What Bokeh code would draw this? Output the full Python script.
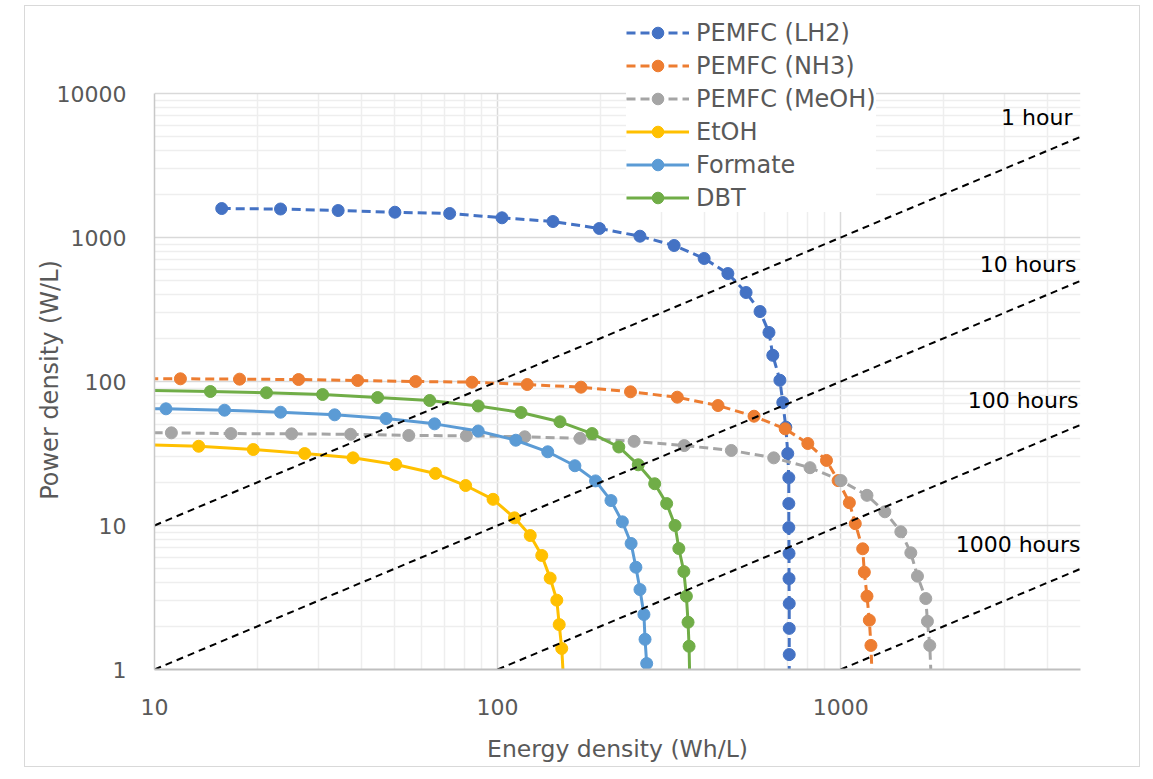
from bokeh.plotting import figure
from bokeh.models import (FixedTicker, Legend, LegendItem, CustomJSTickFormatter, Range1d)
from bokeh.core.properties import value
from bokeh.embed import file_html
from bokeh.resources import INLINE

# ---------------- data ----------------
series_names = ["PEMFC (LH2)", "PEMFC (NH3)", "PEMFC (MeOH)", "EtOH", "Formate", "DBT"]
series_colors = ["#4472C4", "#ED7D31", "#A5A5A5", "#FFC000", "#5B9BD5", "#70AD47"]
series_dashed = [True, True, True, False, False, False]

lh2_E = [15.7, 23.3, 34.3, 50.2, 72.5, 103, 145, 198, 260, 327, 400, 469, 530, 582, 618, 634,
         665, 678, 692, 701, 706, 706, 706, 707, 707, 708, 708, 708, 708]
lh2_P = [1589, 1577, 1539, 1498, 1468, 1370, 1291, 1155, 1021, 880, 715, 562, 415, 306, 219, 152,
         102, 71.5, 48.2, 31.6, 21.5, 14.2, 9.68, 6.40, 4.28, 2.87, 1.93, 1.27, 0.85]

nh3_E = [8.0, 11.9, 17.7, 26.3, 39.1, 57.7, 84.2, 122, 175, 244, 334, 439, 559, 689, 802, 909,
         983, 1060, 1103, 1159, 1172, 1193, 1212, 1225, 1235]
nh3_P = [104.8, 104.4, 103.8, 103.2, 101.6, 100, 98.9, 95.3, 91.3, 84.8, 77.8, 68.1, 57.4, 46.9,
         37.1, 28.3, 20.5, 14.4, 10.3, 6.89, 4.74, 3.23, 2.20, 1.47, 0.88]

meoh_E = [7.5, 11.2, 16.7, 25.1, 37.3, 55.1, 81.1, 120, 174, 250, 350, 480, 638, 814, 1002, 1193,
          1345, 1497, 1601, 1674, 1770, 1790, 1818, 1835]
meoh_P = [44.3, 44.0, 43.5, 43.3, 43.0, 42.2, 42.0, 41.3, 40.3, 38.4, 35.9, 33.2, 29.5, 25.2, 20.5,
          16.2, 12.45, 9.04, 6.46, 4.45, 3.11, 2.16, 1.47, 0.88]

etoh_E = [9.2, 13.45, 19.4, 27.4, 37.9, 50.5, 65.9, 80.7, 97.0, 112, 124.5, 134.5, 142.3, 148.8,
          151.2, 153.8, 155.5]
etoh_P = [36.5, 35.5, 33.7, 31.6, 29.5, 26.5, 23.0, 18.95, 15.2, 11.3, 8.52, 6.19, 4.31, 3.03,
          2.05, 1.40, 0.88]

formate_E = [7.4, 10.8, 16.0, 23.3, 33.5, 47.3, 65.5, 87.8, 113, 140, 168, 193, 214, 231, 245, 253,
             260, 267, 269, 272, 273]
formate_P = [65.5, 64.6, 63.2, 61.2, 58.7, 55.3, 50.8, 45.3, 39.1, 32.5, 26.0, 20.4, 14.9, 10.6,
             7.50, 5.13, 3.59, 2.41, 1.62, 1.10, 0.75]

dbt_E = [9.0, 14.55, 21.2, 30.9, 44.7, 63.4, 87.8, 117, 152, 188.5, 225.6, 257, 287, 311, 329, 337.5,
         349, 355, 359, 361.5, 363]
dbt_P = [87, 85.2, 83.5, 81.2, 77.4, 73.8, 67.6, 60.9, 52.5, 43.5, 35.1, 26.4, 19.5, 14.2, 10.0,
         6.92, 4.79, 3.23, 2.13, 1.45, 0.88]

series_E = [lh2_E, nh3_E, meoh_E, etoh_E, formate_E, dbt_E]
series_P = [lh2_P, nh3_P, meoh_P, etoh_P, formate_P, dbt_P]

hours = [1, 10, 100, 1000]
hour_labels = ["1 hour", "10 hours", "100 hours", "1000 hours"]
hour_label_y = [6760, 650, 73.8, 7.38]

x_min, x_max = 10, 5000
y_min, y_max = 1, 10000
x_major = [10, 100, 1000]
y_major = [1, 10, 100, 1000, 10000]

x_minor = [k * 10 ** d for d in range(1, 4) for k in range(2, 10) if k * 10 ** d <= x_max]
y_minor = [k * 10 ** d for d in range(0, 4) for k in range(2, 10)]

# plot frame extends above the 10000 line so the legend (which sits above it) is not clipped
y_view_top = 10 ** (4 + 87 / 144)

# ---------------- figure ----------------
p = figure(width=1116, height=762, x_axis_type="log", y_axis_type="log",
           x_range=Range1d(x_min, x_max), y_range=Range1d(y_min, y_view_top),
           output_backend="svg", toolbar_location=None,
           min_border_left=129, min_border_right=61, min_border_top=0, min_border_bottom=99)
p.margin = (5, 0, 0, 24)
p.styles = {"border": "1px solid #D9D9D9"}
p.outline_line_color = None
p.background_fill_color = "white"

GREY_TXT = "#595959"
FONT = "DejaVu Sans"

for ax, ticks in ((p.xaxis, x_major), (p.yaxis, y_major)):
    ax.ticker = FixedTicker(ticks=ticks)
    ax.formatter = CustomJSTickFormatter(code="return String(Math.round(tick))")
    ax.major_tick_line_color = None
    ax.minor_tick_line_color = None
    ax.major_tick_out = 0
    ax.major_label_text_font = FONT
    ax.major_label_text_font_size = "22px"
    ax.major_label_text_color = GREY_TXT
    ax.axis_label_text_font = FONT
    ax.axis_label_text_font_style = "normal"
    ax.axis_label_text_color = GREY_TXT

p.yaxis.bounds = (y_min, y_max)
p.xaxis.axis_line_color = "#BFBFBF"
p.xaxis.axis_line_width = 2
p.yaxis.axis_line_color = "#C8C8C8"
p.yaxis.axis_line_width = 1.5
p.xaxis.axis_label = "Energy density (Wh/L)"
p.xaxis.axis_label_text_font_size = "23.5px"
# trailing no-break spaces keep the title centred on the 1..10000 axis span
p.yaxis.axis_label = "Power density (W/L)" + "\u00a0" * 11
p.yaxis.axis_label_text_font_size = "24px"
p.xaxis.major_label_standoff = 29
p.xaxis.axis_label_standoff = 17
p.yaxis.major_label_standoff = 28
p.yaxis.axis_label_standoff = -10

p.xgrid.ticker = FixedTicker(ticks=x_major, minor_ticks=x_minor)
p.ygrid.ticker = FixedTicker(ticks=y_major, minor_ticks=y_minor)
p.xgrid.cross_bounds = (y_min, y_max)
for g in (p.xgrid, p.ygrid):
    g.grid_line_color = "#D9D9D9"
    g.grid_line_width = 1.5
    g.minor_grid_line_color = "#EEEEEE"
    g.minor_grid_line_width = 1.5

items = []
for name, col, dashed, E, P in zip(series_names, series_colors, series_dashed, series_E, series_P):
    lr = p.line(E, P, line_color=col, line_width=3,
                line_dash="9 5" if dashed else "solid")
    sr = p.scatter(E, P, size=12, marker="circle", fill_color=col, line_color=col)
    items.append(LegendItem(label=name, renderers=[lr, sr]))

for h in hours:
    e0 = max(x_min, h * y_min)
    p.line([e0, x_max], [e0 / h, x_max / h], line_color="black", line_width=2, line_dash="7 5")

p.text(x=[x_max] * len(hours), y=hour_label_y, text=hour_labels, text_align="right",
       text_baseline="middle", text_font=value(FONT), text_font_size="22px",
       text_color="black", x_offset=[-8, -4, -2, 0])

legend = Legend(items=items, location=(472, 457), padding=8, margin=0,
                glyph_width=63, glyph_height=29, label_height=29, spacing=4,
                label_standoff=7, label_text_font=FONT, label_text_font_size="24px",
                label_text_color=GREY_TXT, background_fill_color="white",
                background_fill_alpha=1.0, border_line_color=None)
p.add_layout(legend, "center")

open("out.html", "w").write(file_html(p, INLINE))
